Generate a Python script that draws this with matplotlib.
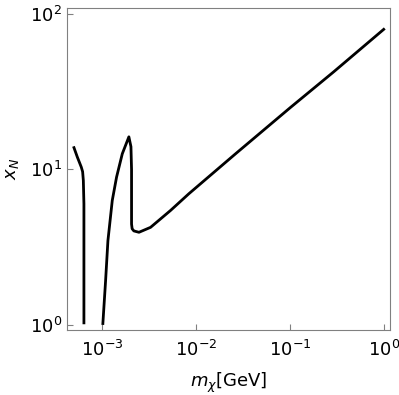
import matplotlib
matplotlib.use("Agg")
import matplotlib.pyplot as plt
import numpy as np

# left branch
m1 = [4.99e-4, 5.42e-4, 5.97e-4, 6.17e-4, 6.28e-4, 6.37e-4, 6.37e-4, 6.37e-4]
x1 = [13.8, 12.0, 10.35, 9.67, 8.49, 6.0, 2.0, 1.03]

# right branch: rise, peak, drop, minimum, long tail
m2 = [1.014e-3, 1.084e-3, 1.148e-3, 1.277e-3, 1.419e-3, 1.633e-3, 1.92e-3,
      2.02e-3, 2.05e-3, 2.05e-3, 2.08e-3, 2.17e-3, 2.46e-3, 3.27e-3, 5.33e-3,
      8.36e-3, 2.63e-2, 1.01e-1, 2.92e-1, 0.998]
x2 = [1.02, 1.92, 3.48, 6.31, 8.92, 12.6, 16.2,
      14.0, 10.0, 4.45, 4.15, 4.02, 3.94, 4.24, 5.44,
      6.97, 12.6, 25.0, 42.4, 79.6]

fig = plt.figure(figsize=(3.99, 3.95), dpi=100)
ax = fig.add_axes([0.169, 0.165, 0.808, 0.815])
ax.plot(m1, x1, color="black", lw=2)
ax.plot(m2, x2, color="black", lw=2)
ax.set_xscale("log")
ax.set_yscale("log")
ax.set_xlim(4.25e-4, 1.16)
ax.set_ylim(10 ** -0.032, 10 ** 2.039)
ax.minorticks_off()
ax.tick_params(direction="in", length=4, color="gray", labelsize=13)
ax.tick_params(axis="x", pad=7)
ax.tick_params(axis="y", pad=4)
for s in ax.spines.values():
    s.set_color("gray")
ax.set_xlabel(r"$m_\chi$[GeV]", fontsize=13, labelpad=8)
ax.set_ylabel(r"$x_N$", fontsize=13, labelpad=6)
fig.savefig("out.png", dpi=100)
